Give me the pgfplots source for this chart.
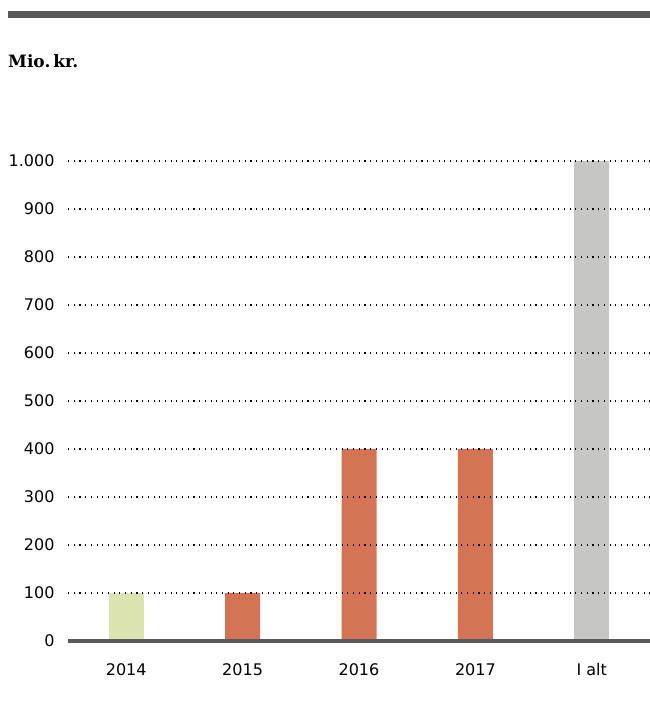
\documentclass[border=0pt]{standalone}
\usepackage{fontspec}
\setmainfont{DejaVu Sans}
\newfontfamily\titlefont{DejaVu Serif}
\usepackage{pgfplots}
\pgfplotsset{compat=1.18}
\definecolor{bargreen}{HTML}{DBE4B0}
\definecolor{barorange}{HTML}{D37455}
\definecolor{bargray}{HTML}{C6C7C5}
\definecolor{rulegray}{HTML}{5A5A5A}
\begin{document}
\begin{tikzpicture}
\useasboundingbox (0,0) rectangle (650pt,704pt);
\fill[rulegray] (8pt,686pt) rectangle (650pt,693pt);
\node[anchor=base west, inner sep=0, font=\titlefont\bfseries\fontsize{17}{20}\selectfont] at (8pt,636pt) {Mio.\,kr.};
\begin{axis}[
  at={(68pt,63pt)}, anchor=south west,
  scale only axis, width=582pt, height=480pt,
  xmin=-0.5, xmax=4.5, ymin=0, ymax=1000,
  axis line style={draw=none},
  major tick length=0pt,
  xtick={0,1,2,3,4},
  xticklabels={2014,2015,2016,2017,I alt},
  ytick={100,200,...,1000},
  extra y ticks={0},
  extra y tick style={grid=none},
  ymajorgrids,
  grid style={black, line width=1.1pt, dash pattern=on 1.1pt off 4.6pt},
  axis on top,
  /pgf/number format/assume math mode=true,
  /pgf/number format/1000 sep={.},
  tick label style={font=\fontsize{16}{19}\selectfont},
  yticklabel style={xshift=-10pt},
  xticklabel style={yshift=-19pt},
  clip=false,
]
\addplot[ybar, bar width=35pt, bar shift=0pt, fill=bargreen, draw=none] coordinates {(0,100)};
\addplot[ybar, bar width=35pt, bar shift=0pt, fill=barorange, draw=none] coordinates {(1,100) (2,400) (3,400)};
\addplot[ybar, bar width=35pt, bar shift=0pt, fill=bargray, draw=none] coordinates {(4,1000)};
\draw[rulegray, line width=4pt] (axis cs:-0.5,0) -- (axis cs:4.5,0);
\end{axis}
\end{tikzpicture}
\end{document}
